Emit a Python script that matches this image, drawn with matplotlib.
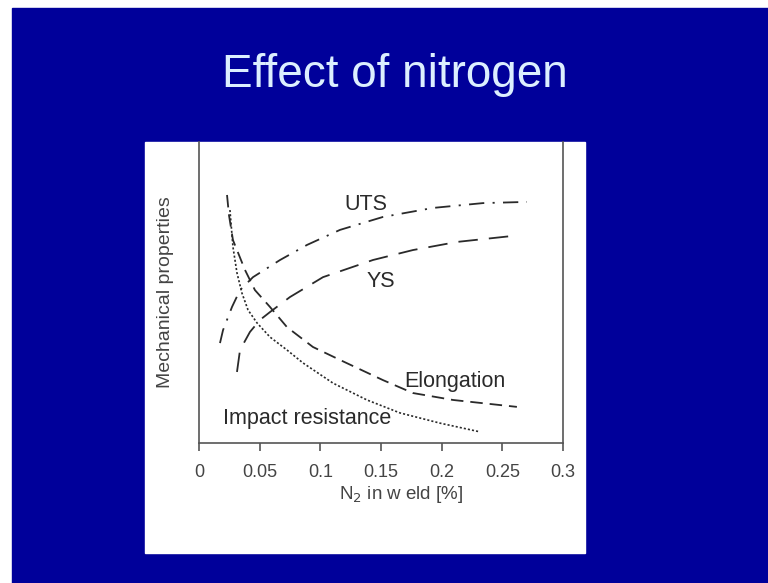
import numpy as np
import matplotlib.pyplot as plt
from matplotlib.patches import Rectangle

plt.rcParams['font.family'] = ['Liberation Sans', 'DejaVu Sans']
plt.rcParams['lines.scale_dashes'] = False

# curves (y in arbitrary units, 0..100)
uts_x = [0.0173, 0.0198, 0.0272, 0.0338, 0.0445, 0.0668, 0.089, 0.1162, 0.1516,
         0.1929, 0.234, 0.2703]
uts_y = [33.2, 37.5, 45.2, 50.8, 55.1, 60.8, 65.8, 70.8, 75.1, 78.1, 79.7, 80.1]

ys_x = [0.0313, 0.0338, 0.042, 0.0503, 0.0585, 0.075, 0.0915, 0.1022, 0.1434,
        0.1763, 0.2126, 0.2587]
ys_y = [23.6, 30.9, 36.9, 40.9, 43.5, 48.5, 52.5, 55.1, 60.8, 64.1, 66.8, 68.8]

elong_x = [0.0231, 0.0247, 0.028, 0.0379, 0.0461, 0.0585, 0.0725, 0.0939, 0.1162,
           0.1516, 0.1763, 0.2093, 0.262]
elong_y = [82.4, 75.7, 67.4, 57.5, 50.8, 45.2, 38.5, 31.9, 27.6, 20.9, 16.6, 14.3, 12.0]

impact_x = [0.0255, 0.028, 0.0313, 0.0354, 0.0404, 0.0478, 0.0585, 0.0725, 0.0857,
            0.1104, 0.1384, 0.1656, 0.1986, 0.2316]
impact_y = [77.4, 65.1, 56.5, 49.8, 44.2, 39.9, 35.2, 30.9, 26.6, 19.9, 14.3, 10.0,
            6.6, 3.7]

xticks = [0, 0.05, 0.1, 0.15, 0.2, 0.25, 0.3]
xtick_labels = ['0', '0.05', '0.1', '0.15', '0.2', '0.25', '0.3']

fig = plt.figure(figsize=(7.68, 5.83), dpi=100, facecolor='white')

# slide background and white panel
fig.patches.append(Rectangle((12 / 768, 0), 1, 575 / 583, transform=fig.transFigure,
                             color='#00009a', zorder=0))
fig.patches.append(Rectangle((145 / 768, 30 / 583), 440 / 768, 411 / 583,
                             transform=fig.transFigure, color='white', zorder=0.5))

fig.text(395 / 768, 1 - 75 / 583, 'Effect of nitrogen', color='#dcefff',
         fontsize=33, ha='center', va='center')

ax = fig.add_axes([199 / 768, 140 / 583, 364 / 768, 301 / 583])
ax.set_zorder(2)
ax.set_facecolor('none')
ax.set_xlim(0, 0.3)
ax.set_ylim(0, 100)

lc = '#2a2a2a'
ax.plot(uts_x, uts_y, color=lc, lw=1.3, dashes=(11, 6, 1.5, 6))
ax.plot(ys_x, ys_y, color=lc, lw=1.3, dashes=(14, 8))
ax.plot(elong_x, elong_y, color=lc, lw=1.3, dashes=(9, 5))
ax.plot(impact_x, impact_y, color=lc, lw=1.2, dashes=(1.5, 1.5))

tc = '#2a2a2a'
ax.text(0.1374, 79.1, 'UTS', fontsize=15.5, ha='center', va='center', color=tc)
ax.text(0.1498, 53.8, 'YS', fontsize=15.5, ha='center', va='center', color=tc)
ax.text(0.211, 20.3, 'Elongation', fontsize=15.5, ha='center', va='center', color=tc)
ax.text(0.089, 8.0, 'Impact resistance', fontsize=15.5, ha='center', va='center', color=tc)

for s in ['left', 'right', 'bottom']:
    ax.spines[s].set_color('#555555')
    ax.spines[s].set_linewidth(1.2)
ax.spines['top'].set_visible(False)

ax.set_xticks(xticks)
ax.set_xticklabels(xtick_labels)
ax.set_yticks([])
ax.tick_params(axis='x', direction='out', length=6, width=1.2, color='#555555',
               labelsize=13, labelcolor='#444444', pad=9)
ax.set_xlabel('N$_2$ in w eld [%]', fontsize=13.5, color='#444444', labelpad=2)
ax.xaxis.label.set_x(0.555)
ax.set_ylabel('Mechanical properties', fontsize=14, color='#444444', labelpad=18)

fig.savefig('out.png', dpi=100, facecolor=fig.get_facecolor())
